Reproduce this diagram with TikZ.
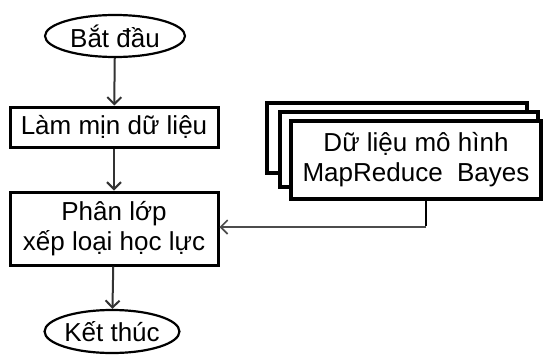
\documentclass[tikz,border=0pt]{standalone}
\usepackage{fontspec}
\setmainfont{Liberation Sans}
\usetikzlibrary{shapes.geometric,arrows.meta}

\tikzset{
  every node/.style={font=\fontsize{26}{30}\selectfont, inner sep=0pt, align=center},
  terminal/.style={ellipse, draw, line width=2.2pt, fill=white},
  procbox/.style={rectangle, draw, line width=3pt, fill=white},
  stackbox/.style={rectangle, draw, line width=3.2pt, fill=white},
  flow/.style={draw=black!80, line width=2pt, -{Straight Barb[length=7pt,width=14pt,line width=2pt]}},
  feed/.style={draw=black!70, line width=1.4pt, -{Straight Barb[length=7pt,width=14pt,line width=1.6pt]}},
}

\begin{document}
\begin{tikzpicture}[x=1pt,y=-1pt]
\useasboundingbox (0,0) rectangle (543,356);

% main flow
\node[terminal, minimum width=140pt, minimum height=42pt] (start) at (115,36) {Bắt đầu};
\node[procbox, minimum width=208pt, minimum height=40pt] (smooth) at (114,127) {Làm mịn dữ liệu};
\node[procbox, minimum width=208pt, minimum height=73pt] (classify) at (114,228.5) {Phân lớp\\xếp loại học lực};
\node[terminal, minimum width=131pt, minimum height=43pt] (stop) at (112,331.5) {Kết thúc};

% stacked data documents
\node[stackbox, minimum width=260pt, minimum height=70pt] (back) at (397,138) {};
\node[stackbox, minimum width=258pt, minimum height=75pt] (mid) at (409,149.5) {};
\node[stackbox, minimum width=250pt, minimum height=78pt] (front) at (416,160) {Dữ liệu mô hình\\MapReduce\ \ Bayes};

\draw[flow] (start) -- (smooth);
\draw[flow] (smooth) -- (classify);
\draw[flow] (classify) -- (stop);

% model data feeding the classifier
\coordinate (bend) at (426,227);
\draw[line width=2.6pt] (front.south -| bend) -- ([yshift=1pt]bend);
\draw[feed] (bend) -- (classify.east |- bend);
\end{tikzpicture}
\end{document}
